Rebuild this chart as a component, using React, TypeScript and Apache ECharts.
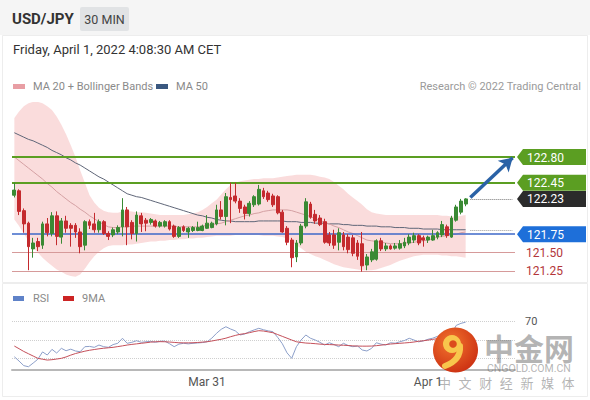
import React, { useEffect, useRef } from "react";
import * as echarts from "echarts";

// ---- x slots (30-min bars) and day labels ----
const SLOT_COUNT = 107;
const dayLabels = ["Mar 31", "Apr 1"];
const dayLabelSlots = [41, 88];

// ---- candles: [open, close, low, high] ----
const candles: number[][] = [
  [122.28, 122.35, 122.25, 122.45], [122.34, 122.06, 122.01, 122.36], [122.07, 121.89, 121.77, 122.10],
  [121.90, 121.58, 121.26, 121.92], [121.55, 121.63, 121.43, 121.70], [121.65, 121.58, 121.52, 121.70],
  [121.60, 121.89, 121.55, 121.92], [121.89, 121.77, 121.72, 121.97], [121.76, 122.00, 121.72, 122.05],
  [122.00, 121.72, 121.60, 122.06], [121.71, 121.93, 121.62, 121.97], [121.93, 121.83, 121.77, 122.00],
  [121.87, 121.83, 121.58, 121.90], [121.87, 121.78, 121.70, 121.90], [121.78, 121.58, 121.49, 121.83],
  [121.60, 121.92, 121.53, 121.94], [121.92, 121.87, 121.82, 121.95], [121.89, 121.81, 121.77, 122.04],
  [121.81, 121.92, 121.77, 121.95], [121.92, 121.76, 121.74, 121.94], [121.76, 121.72, 121.67, 121.79],
  [121.74, 121.81, 121.71, 121.84], [121.78, 121.84, 121.75, 121.87], [121.85, 122.08, 121.72, 122.24],
  [122.08, 121.85, 121.60, 122.12], [121.91, 121.76, 121.68, 121.94], [121.76, 122.01, 121.65, 122.06],
  [122.00, 121.89, 121.78, 122.04], [121.94, 121.90, 121.79, 121.97], [121.91, 121.95, 121.88, 121.97],
  [121.93, 121.86, 121.84, 121.95], [121.86, 121.91, 121.84, 121.93], [121.86, 121.92, 121.84, 121.94],
  [121.92, 121.82, 121.80, 121.94], [121.86, 121.72, 121.70, 121.88], [121.72, 121.84, 121.70, 121.86],
  [121.85, 121.80, 121.78, 121.87], [121.78, 121.83, 121.70, 121.85], [121.80, 121.84, 121.78, 121.86],
  [121.80, 121.84, 121.79, 121.92], [121.80, 121.86, 121.79, 121.88], [121.83, 121.90, 121.82, 122.01],
  [121.84, 121.90, 121.83, 121.92], [121.89, 122.08, 121.87, 122.15], [122.08, 121.99, 121.95, 122.20],
  [121.99, 122.26, 121.87, 122.31], [122.25, 122.22, 121.90, 122.45], [122.27, 122.20, 122.17, 122.45],
  [122.20, 122.10, 122.04, 122.24], [122.12, 122.03, 121.95, 122.15], [122.03, 122.17, 121.99, 122.20],
  [122.15, 122.26, 122.12, 122.28], [122.16, 122.36, 122.14, 122.42], [122.34, 122.26, 122.23, 122.38],
  [122.31, 122.22, 122.19, 122.34], [122.27, 122.15, 122.12, 122.30], [122.26, 122.04, 122.02, 122.28],
  [122.05, 121.78, 121.77, 122.08], [121.83, 121.64, 121.60, 121.86], [121.67, 121.43, 121.30, 121.70],
  [121.44, 121.63, 121.37, 121.67], [121.63, 121.86, 121.60, 121.89], [121.86, 122.19, 121.83, 122.24],
  [122.16, 121.98, 121.96, 122.19], [122.02, 121.93, 121.89, 122.08], [121.97, 121.88, 121.86, 122.01],
  [121.92, 121.64, 121.62, 121.96], [121.74, 121.63, 121.59, 121.78], [121.74, 121.60, 121.55, 121.81],
  [121.64, 121.77, 121.53, 121.83], [121.74, 121.58, 121.53, 121.78], [121.71, 121.54, 121.49, 121.75],
  [121.70, 121.49, 121.45, 121.74], [121.63, 121.45, 121.40, 121.67], [121.62, 121.32, 121.24, 121.78],
  [121.33, 121.44, 121.26, 121.48], [121.40, 121.51, 121.37, 121.55], [121.41, 121.66, 121.39, 121.68],
  [121.66, 121.55, 121.52, 121.70], [121.55, 121.59, 121.52, 121.63], [121.59, 121.55, 121.54, 121.61],
  [121.56, 121.59, 121.54, 121.63], [121.56, 121.62, 121.54, 121.67], [121.59, 121.64, 121.56, 121.70],
  [121.63, 121.71, 121.60, 121.75], [121.67, 121.73, 121.63, 121.77], [121.73, 121.63, 121.60, 121.75],
  [121.70, 121.67, 121.58, 121.73], [121.67, 121.71, 121.63, 121.73], [121.67, 121.73, 121.66, 121.81],
  [121.71, 121.77, 121.68, 121.79], [121.74, 121.88, 121.71, 121.93], [121.85, 121.73, 121.70, 121.88],
  [121.71, 121.97, 121.70, 122.00], [121.94, 122.12, 121.92, 122.15], [122.05, 122.20, 122.02, 122.23],
  [122.16, 122.23, 122.13, 122.24],
];

const ma20 = [
  122.80, 122.75, 122.70, 122.65, 122.60, 122.55, 122.50, 122.44, 122.39, 122.33,
  122.28, 122.23, 122.18, 122.14, 122.09, 122.05, 122.00, 121.96, 121.92, 121.88,
  121.85, 121.84, 121.84, 121.85, 121.85, 121.86, 121.86, 121.86, 121.86, 121.86,
  121.86, 121.86, 121.86, 121.86, 121.86, 121.85, 121.85, 121.85, 121.85, 121.85,
  121.86, 121.87, 121.88, 121.89, 121.90, 121.92, 121.94, 121.96, 121.98, 122.00,
  122.01, 122.03, 122.04, 122.06, 122.07, 122.08, 122.08, 122.08, 122.08, 122.07,
  122.05, 122.03, 122.01, 121.99, 121.96, 121.94, 121.91, 121.89, 121.86, 121.84,
  121.81, 121.78, 121.76, 121.73, 121.70, 121.67, 121.66, 121.65, 121.64, 121.63,
  121.62, 121.62, 121.62, 121.63, 121.63, 121.64, 121.65, 121.66, 121.67, 121.69,
  121.71, 121.72, 121.73, 121.74, 121.75, 121.77, 121.78,
];

const ma50 = [
  123.13, 123.10, 123.07, 123.04, 123.02, 122.99, 122.96, 122.93, 122.89, 122.86,
  122.83, 122.79, 122.76, 122.72, 122.69, 122.65, 122.61, 122.57, 122.53, 122.50,
  122.46, 122.42, 122.38, 122.34, 122.30, 122.28, 122.26, 122.25, 122.23, 122.21,
  122.19, 122.17, 122.15, 122.13, 122.11, 122.09, 122.07, 122.05, 122.03, 122.01,
  122.00, 121.98, 121.97, 121.95, 121.94, 121.93, 121.93, 121.92, 121.92, 121.92,
  121.92, 121.92, 121.93, 121.93, 121.93, 121.93, 121.93, 121.93, 121.92, 121.92,
  121.92, 121.91, 121.91, 121.91, 121.90, 121.90, 121.90, 121.89, 121.89, 121.89,
  121.88, 121.88, 121.87, 121.87, 121.87, 121.86, 121.86, 121.86, 121.85, 121.85,
  121.85, 121.84, 121.84, 121.84, 121.83, 121.83, 121.83, 121.82, 121.82, 121.82,
  121.82, 121.81, 121.81, 121.81, 121.81, 121.81, 121.81,
];

const bandUpper = [
  123.33, 123.42, 123.49, 123.53, 123.55, 123.55, 123.53, 123.49, 123.44, 123.35,
  123.24, 123.11, 122.96, 122.80, 122.62, 122.45, 122.28, 122.18, 122.11, 122.07,
  122.05, 122.04, 122.04, 122.06, 122.07, 122.06, 122.05, 122.05, 122.04, 122.03,
  122.02, 122.01, 122.01, 122.01, 122.01, 122.01, 122.01, 122.02, 122.03, 122.05,
  122.08, 122.12, 122.17, 122.22, 122.29, 122.36, 122.42, 122.45, 122.47, 122.48,
  122.49, 122.50, 122.50, 122.51, 122.51, 122.51, 122.52, 122.53, 122.54, 122.55,
  122.56, 122.56, 122.56, 122.56, 122.55, 122.53, 122.52, 122.50, 122.46, 122.41,
  122.36, 122.30, 122.25, 122.20, 122.15, 122.09, 122.05, 122.03, 122.02, 122.01,
  122.01, 122.01, 122.01, 122.01, 122.01, 122.01, 122.01, 122.01, 122.01, 122.01,
  122.01, 122.00, 122.00, 121.99, 121.99, 122.00, 122.01,
];

const bandLower = [
  121.95, 121.86, 121.76, 121.66, 121.57, 121.50, 121.43, 121.37, 121.32, 121.27,
  121.24, 121.20, 121.18, 121.17, 121.20, 121.28, 121.37, 121.45, 121.51, 121.56,
  121.59, 121.60, 121.60, 121.60, 121.61, 121.61, 121.62, 121.63, 121.64, 121.65,
  121.65, 121.66, 121.66, 121.67, 121.67, 121.68, 121.68, 121.69, 121.69, 121.70,
  121.70, 121.71, 121.72, 121.73, 121.73, 121.73, 121.73, 121.74, 121.74, 121.74,
  121.74, 121.74, 121.74, 121.73, 121.73, 121.73, 121.72, 121.71, 121.69, 121.65,
  121.60, 121.56, 121.51, 121.48, 121.45, 121.43, 121.40, 121.37, 121.34, 121.32,
  121.30, 121.29, 121.28, 121.27, 121.26, 121.26, 121.26, 121.27, 121.29, 121.31,
  121.33, 121.36, 121.39, 121.41, 121.43, 121.45, 121.46, 121.47, 121.47, 121.47,
  121.47, 121.46, 121.46, 121.45, 121.45, 121.44, 121.43,
];

const rsi = [
  31.7, 27, 22, 20.8, 24.8, 29, 37, 33.6, 39.8, 35.8,
  40.9, 38.3, 40, 38, 37.2, 42.7, 43, 42, 44.5, 42.7,
  42, 45, 46.4, 51.9, 46.4, 47.5, 49.2, 47.5, 48.1, 48.5,
  47.5, 48.6, 48.8, 46, 42.7, 45.5, 46.4, 45.8, 46.4, 46.8,
  47.2, 48.1, 52, 57.3, 61.7, 64.5, 62, 60, 55.5, 56.5,
  59.1, 61, 62.8, 61.2, 60, 59.1, 53, 46, 36, 30,
  42.7, 50, 55.5, 51.9, 50, 47.5, 44.5, 47, 45, 42.7,
  46.4, 44, 42.7, 43.5, 39.1, 38, 40.9, 47, 45.5, 44.5,
  47, 46.5, 48.1, 49.5, 51.9, 50, 48, 49, 50.8, 52,
  54, 56, 60, 57, 66, 68.2, 69.5,
];

const rsiMa9 = [
  43.4, 40.5, 37.5, 35, 32.5, 30, 29, 28.1, 28.5, 29.2,
  30, 31.5, 33.5, 35.2, 36.5, 37.8, 38.8, 39.6, 40.4, 41,
  41.5, 42, 42.8, 43.6, 44.5, 45.2, 45.8, 46.4, 47, 47.7,
  48.1, 48.2, 48.1, 47.8, 47.4, 47, 46.9, 46.9, 47, 47.3,
  47.7, 48.1, 48.9, 49.9, 50.8, 52, 53.6, 55, 56.2, 57,
  58, 59.2, 60.2, 59.8, 58.9, 58, 56, 54, 52, 50,
  48.1, 47.3, 46.7, 46.4, 46, 45.5, 45.2, 45, 44.8, 44.5,
  44.3, 44, 43.6, 43.4, 43.3, 43.3, 43.4, 43.8, 44.4, 45,
  45.6, 46, 46.4, 46.8, 47.2, 47.8, 48.6, 49.2, 49.9, 50.7,
  51.5, 52.3, 53.2, 54, 55, 56.3, 57.6,
];

// key levels
const resistanceLevels = [122.8, 122.45];
const pivotLevel = 121.75;
const supportLevels = [121.5, 121.25];
const lastPrice = 122.23;
const ma50Last = 121.81;
const arrowFrom = 122.25;
const arrowTo = 122.8;
const rsiLevels = [70, 50, 30];

const FONT = "Roboto, 'Liberation Sans', Arial, sans-serif";
const GREEN = "#5b9e22";
const BLUE = "#1e6fd9";

export default function App() {
  const ref = useRef<HTMLDivElement>(null);

  useEffect(() => {
    if (!ref.current) return;
    const chart = echarts.init(ref.current, undefined, { renderer: "svg" });
    const cats = Array.from({ length: SLOT_COUNT }, (_, i) => "t" + i);
    const labelMap: Record<number, string> = {};
    dayLabelSlots.forEach((s, k) => (labelMap[s] = dayLabels[k]));
    const lastIdx = candles.length - 1;
    const endCat = cats[SLOT_COUNT - 1];
    const nextCat = cats[lastIdx + 1];

    const bandWidth = bandUpper.map((u, i) => +(u - bandLower[i]).toFixed(4));

    chart.setOption({
      animation: false,
      grid: [
        { left: 12, top: 101.875, width: 503, height: 180.075 },
        { left: 12, top: 303.4, width: 503, height: 65.9 },
      ],
      xAxis: [
        { type: "category", gridIndex: 0, data: cats, show: false, boundaryGap: true },
        {
          type: "category",
          gridIndex: 1,
          data: cats,
          boundaryGap: true,
          axisLine: { onZero: false, lineStyle: { color: "#b8b8b8", width: 2 } },
          axisTick: { show: false },
          splitLine: { show: false },
          axisLabel: {
            interval: (i: number) => labelMap[i] !== undefined,
            formatter: (_v: string, i: number) => labelMap[i] || "",
            color: "#555",
            fontSize: 12,
            fontFamily: FONT,
            margin: 7,
          },
        },
      ],
      yAxis: [
        { type: "value", gridIndex: 0, min: 121.1, max: 123.55, show: false, splitLine: { show: false } },
        { type: "value", gridIndex: 1, min: 18, max: 90, show: false, splitLine: { show: false } },
      ],
      series: [
        {
          name: "bandLower",
          type: "line",
          data: bandLower,
          stack: "bb",
          symbol: "none",
          silent: true,
          lineStyle: { width: 0, opacity: 0 },
          z: 1,
        },
        {
          name: "bandWidth",
          type: "line",
          data: bandWidth,
          stack: "bb",
          symbol: "none",
          silent: true,
          lineStyle: { width: 0, opacity: 0 },
          areaStyle: { color: "rgba(240,140,140,0.3)", opacity: 1 },
          z: 1,
        },
        {
          name: "MA 50",
          type: "line",
          data: ma50,
          symbol: "none",
          silent: true,
          lineStyle: { color: "#5f6678", width: 1 },
          z: 3,
        },
        {
          name: "MA 20",
          type: "line",
          data: ma20,
          symbol: "none",
          silent: true,
          lineStyle: { color: "#d4a0a3", width: 1 },
          z: 3,
        },
        {
          name: "USD/JPY",
          type: "candlestick",
          data: candles,
          barWidth: 3.3,
          z: 5,
          itemStyle: {
            color: "#3a8a34",
            color0: "#c42a2e",
            borderColor: "#3a8a34",
            borderColor0: "#c42a2e",
            borderWidth: 1,
          },
          markLine: {
            silent: true,
            symbol: "none",
            label: { show: false },
            z: 4,
            data: [
              ...resistanceLevels.map((v) => ({ yAxis: v, lineStyle: { color: GREEN, width: 2, type: "solid" } })),
              { yAxis: pivotLevel, lineStyle: { color: "#3e68c9", width: 1.5, type: "solid" } },
              ...supportLevels.map((v) => ({ yAxis: v, lineStyle: { color: "#d69a9a", width: 1, type: "solid" } })),
              [
                { coord: [nextCat, lastPrice], lineStyle: { color: "#777", width: 1, type: "dotted" } },
                { coord: [endCat, lastPrice] },
              ],
              [
                { coord: [nextCat, ma50Last], lineStyle: { color: "#9a9a9a", width: 1, type: "dotted" } },
                { coord: [endCat, ma50Last] },
              ],
              [
                {
                  coord: [nextCat, arrowFrom],
                  symbol: "none",
                  lineStyle: { color: "#2a62a6", width: 3.5, type: "solid" },
                },
                { coord: [cats[SLOT_COUNT - 1], arrowTo - 0.01], symbol: "arrow", symbolSize: [12, 13] },
              ],
            ],
          },
        },
        {
          name: "RSI",
          type: "line",
          xAxisIndex: 1,
          yAxisIndex: 1,
          data: rsi,
          symbol: "none",
          silent: true,
          lineStyle: { color: "#8c9fc9", width: 1 },
          z: 3,
          markLine: {
            silent: true,
            symbol: "none",
            z: 1,
            data: rsiLevels.map((v) => ({
              yAxis: v,
              lineStyle: { color: "#cfcfcf", width: 1, type: "dotted" },
              label: {
                show: v === 70,
                position: "end",
                formatter: String(v),
                color: "#555",
                fontSize: 11,
                fontFamily: FONT,
                distance: 10,
              },
            })),
          },
        },
        {
          name: "9MA",
          type: "line",
          xAxisIndex: 1,
          yAxisIndex: 1,
          data: rsiMa9,
          symbol: "none",
          silent: true,
          lineStyle: { color: "#c4505a", width: 1 },
          z: 3,
        },
      ],
    });

    // right-side price tags, positioned through the value axis
    const yOf = (v: number) => chart.convertToPixel({ yAxisIndex: 0 }, v) as number;
    const tag = (v: number, bg: string) => {
      const y = yOf(v);
      return [
        {
          type: "polygon",
          shape: { points: [[517, y], [523, y - 8], [586, y - 8], [586, y + 8], [523, y + 8]] },
          style: { fill: bg },
          z: 20,
        },
        {
          type: "text",
          x: 527,
          y: y + 0.5,
          style: {
            text: v.toFixed(2),
            fill: "#fff",
            fontSize: 12,
            fontFamily: FONT,
            align: "left",
            verticalAlign: "middle",
            textAlign: "left",
            textVerticalAlign: "middle",
          },
          z: 21,
        },
      ];
    };
    const plainTag = (v: number) => ({
      type: "text",
      x: 526,
      y: yOf(v) + 0.5,
      style: {
        text: v.toFixed(2),
        fill: "#b3363a",
        fontSize: 12,
        fontFamily: FONT,
        align: "left",
        verticalAlign: "middle",
        textAlign: "left",
        textVerticalAlign: "middle",
      },
      z: 21,
    });

    const txt = (x: number, y: number, text: string, fill: string, size: number, extra: any = {}) => ({
      type: "text",
      x,
      y,
      style: {
        text,
        fill,
        fontSize: size,
        fontFamily: FONT,
        align: extra.align || "left",
        textAlign: extra.align || "left",
        verticalAlign: "middle",
        textVerticalAlign: "middle",
        fontWeight: extra.weight || "normal",
      },
      z: extra.z || 10,
    });

    const wmChars = ["中", "文", "财", "经", "新", "媒", "体"];
    const wmFill = "rgba(105,105,105,0.5)";

    chart.setOption({
      graphic: [
        { type: "rect", shape: { x: 0, y: 0, width: 590, height: 35 }, style: { fill: "#f5f5f5" }, z: 0 },
        { type: "rect", shape: { x: 2.5, y: 35.5, width: 585, height: 247 }, style: { fill: "none", stroke: "#ededed", lineWidth: 1 }, z: 0 },
        { type: "rect", shape: { x: 2.5, y: 283.5, width: 585, height: 113 }, style: { fill: "none", stroke: "#ededed", lineWidth: 1 }, z: 0 },
        txt(12, 19, "USD/JPY", "#333", 15, { weight: "bold" }),
        { type: "rect", shape: { x: 80, y: 7, width: 49, height: 24, r: 2 }, style: { fill: "#e1e3e5" }, z: 9 },
        txt(104.5, 19, "30 MIN", "#444", 12.5, { align: "center" }),
        txt(13, 49, "Friday, April 1, 2022 4:08:30 AM CET", "#333", 13),
        { type: "rect", shape: { x: 13, y: 84, width: 12, height: 5 }, style: { fill: "#e89ea4" }, z: 10 },
        txt(33, 86.5, "MA 20 + Bollinger Bands", "#8a8a8a", 11),
        { type: "rect", shape: { x: 156, y: 84, width: 12, height: 5 }, style: { fill: "#3a5880" }, z: 10 },
        txt(176, 86.5, "MA 50", "#8a8a8a", 11),
        txt(581, 86.5, "Research © 2022 Trading Central", "#9a9a9a", 11, { align: "right" }),
        { type: "rect", shape: { x: 13, y: 296, width: 11, height: 5 }, style: { fill: "#5f82c8" }, z: 10 },
        txt(33, 298.5, "RSI", "#8a8a8a", 11),
        { type: "rect", shape: { x: 63, y: 296, width: 11, height: 5 }, style: { fill: "#cc2424" }, z: 10 },
        txt(82, 298.5, "9MA", "#8a8a8a", 11),
        ...resistanceLevels.flatMap((v) => tag(v, GREEN)),
        ...tag(lastPrice, "#2b2b2b"),
        ...tag(pivotLevel, BLUE),
        ...supportLevels.map((v) => plainTag(v)),
        // watermark
        {
          type: "circle",
          shape: { cx: 455.5, cy: 350, r: 22.5 },
          style: {
            fill: new echarts.graphic.RadialGradient(0.4, 0.35, 0.75, [
              { offset: 0, color: "#f2742e" },
              { offset: 1, color: "#c92b10" },
            ]),
          },
          z: 30,
        },
        { type: "circle", shape: { cx: 452, cy: 344, r: 9 }, style: { fill: "#f8c64c" }, z: 31 },
        { type: "circle", shape: { cx: 453, cy: 344, r: 3.8 }, style: { fill: "#dc4a1c" }, z: 32 },
        {
          type: "bezierCurve",
          shape: { x1: 460, y1: 346, cpx1: 461, cpy1: 360, x2: 445, y2: 366 },
          style: { stroke: "#f8c64c", lineWidth: 6, lineCap: "round", fill: "none" },
          z: 31,
        },
        {
          type: "text",
          x: 484,
          y: 347,
          style: {
            text: "中金网",
            fill: wmFill,
            fontSize: 30,
            lineHeight: 30,
            fontWeight: "bold",
            fontFamily: "'Noto Sans CJK SC', sans-serif",
            align: "left",
            textAlign: "left",
            verticalAlign: "middle",
            textVerticalAlign: "middle",
          },
          z: 30,
        },
        {
          type: "text",
          x: 487,
          y: 368.5,
          style: {
            text: "CNGOLD.COM.CN",
            fill: wmFill,
            fontSize: 10.5,
            lineHeight: 11,
            fontFamily: FONT,
            align: "left",
            textAlign: "left",
            verticalAlign: "middle",
            textVerticalAlign: "middle",
          },
          z: 30,
        },
        ...wmChars.map((c, k) => ({
          type: "text",
          x: 438 + k * 20.6,
          y: 382.5,
          style: {
            text: c,
            fill: wmFill,
            fontSize: 13,
            lineHeight: 13,
            fontFamily: "'Noto Sans CJK SC', sans-serif",
            align: "left",
            textAlign: "left",
            verticalAlign: "middle",
            textVerticalAlign: "middle",
          },
          z: 30,
        })),
      ],
    });

    return () => chart.dispose();
  }, []);

  return (
    <div
      ref={ref}
      style={{ position: "absolute", left: 0, top: 0, width: 590, height: 400, background: "#fff" }}
    />
  );
}
